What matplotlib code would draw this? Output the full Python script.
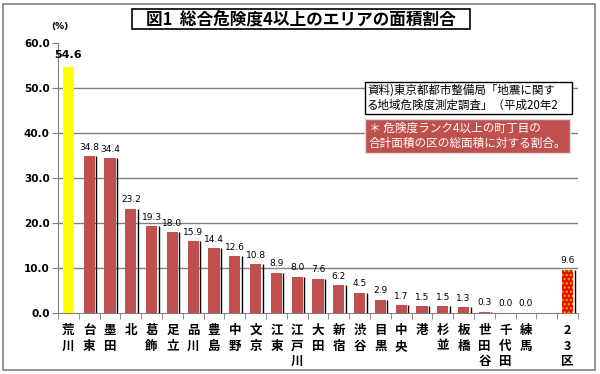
import matplotlib
matplotlib.use("Agg")
import matplotlib.pyplot as plt
from matplotlib.patches import Rectangle

plt.rcParams['font.family'] = ['Noto Sans CJK JP', 'DejaVu Sans']

title = "図1  総合危険度4以上のエリアの面積割合"
categories = ["荒川", "台東", "墨田", "北", "葛飾", "足立", "品川", "豊島", "中野", "文京",
              "江東", "江戸川", "大田", "新宿", "渋谷", "目黒", "中央", "港", "杉並", "板橋",
              "世田谷", "千代田", "練馬", "", "23区"]
values = [54.6, 34.8, 34.4, 23.2, 19.3, 18.0, 15.9, 14.4, 12.6, 10.8,
          8.9, 8.0, 7.6, 6.2, 4.5, 2.9, 1.7, 1.5, 1.5, 1.3,
          0.3, 0.0, 0.0, None, 9.6]
yticks = [0, 10, 20, 30, 40, 50, 60]
source_text = "資料)東京都都市整備局「地震に関す\nる地域危険度測定調査」（平成20年2"
note_text = "＊ 危険度ランク4以上の町丁目の\n合計面積の区の総面積に対する割合。"

RED = "#c0504d"
W, H = 600, 374
fig = plt.figure(figsize=(W / 100, H / 100), dpi=100)
ax = fig.add_axes([58 / W, 1 - 313 / H, (578 - 58) / W, (313 - 43) / H])

def fx(px):
    return px / W

def fy(py):
    return 1 - py / H

n = len(categories)
xs = list(range(n))
bw = 0.53
for i, (c, v) in enumerate(zip(categories, values)):
    if v is None:
        continue
    if i == 0:
        ax.bar(i, v, width=bw, color="#ffff00", zorder=3)
    elif c == "23区":
        ax.bar(i, v, width=bw, color="#ff0000", edgecolor="#a8d000", hatch="....",
               linewidth=0, zorder=3)
        ax.vlines(i + bw / 2 + 0.07, 0, v, color="black", linewidth=1, zorder=3)
    else:
        ax.bar(i, v, width=bw, color=RED, zorder=3)
        if v > 0:
            ax.vlines(i + bw / 2 + 0.07, 0, v, color="black", linewidth=1, zorder=3)
    if i == 0:
        ax.text(i, v + 1.6, f"{v:.1f}", ha="center", va="bottom", fontsize=8,
                fontweight="bold", family="DejaVu Sans", zorder=4)
    else:
        ax.text(i, v + 1.0, f"{v:.1f}", ha="center", va="bottom", fontsize=6.5,
                family="DejaVu Sans", zorder=4)

ax.set_xlim(-0.5, n - 0.5)
ax.set_ylim(0, 60)
ax.set_yticks(yticks)
ax.set_yticklabels([f"{t:.1f}" for t in yticks], fontsize=7.5, fontweight="bold",
                   family="DejaVu Sans")
for t in yticks[1:-1]:
    ax.axhline(t, color="#808080", linewidth=1, zorder=1)

ax.set_xticks(xs)
labels = []
for c in categories:
    if c == "23区":
        labels.append("2\n3\n区")
    else:
        labels.append("\n".join(list(c)))
ax.set_xticklabels(labels, fontsize=9, fontweight="bold", linespacing=1.25, va="top")
ax.tick_params(axis="x", which="major", length=0, pad=8)
ax.set_xticks([x - 0.5 for x in range(n + 1)], minor=True)
ax.tick_params(axis="x", which="minor", length=4, color="#808080", direction="out")
ax.tick_params(axis="y", length=4, color="#808080", direction="out", pad=2)

for s in ["top", "right"]:
    ax.spines[s].set_visible(False)
for s in ["left", "bottom"]:
    ax.spines[s].set_color("#808080")

fig.text(fx(60), fy(27), "(%)", fontsize=6.5, fontweight="bold", ha="center",
         va="center", family="DejaVu Sans")

# title box
fig.patches.append(Rectangle((fx(132), fy(29)), (470 - 132) / W, 20 / H,
                             transform=fig.transFigure, facecolor="white",
                             edgecolor="black", linewidth=1.2))
fig.text(fx(301), fy(19), title, fontsize=12, fontweight="bold", ha="center",
         va="center")

# source box
fig.patches.append(Rectangle((fx(365), fy(114)), (572 - 365) / W, 32 / H,
                             transform=fig.transFigure, facecolor="white",
                             edgecolor="black", linewidth=1, zorder=5))
fig.text(fx(367), fy(98), source_text, fontsize=8.3, ha="left", va="center",
         linespacing=1.2, zorder=6)

# note box
fig.patches.append(Rectangle((fx(365), fy(153)), (570 - 365) / W, 34 / H,
                             transform=fig.transFigure, facecolor=RED,
                             edgecolor="#d9d9d9", linewidth=1, zorder=5))
fig.text(fx(369), fy(136), note_text, fontsize=8.4, ha="left", va="center",
         color="white", linespacing=1.2, zorder=6)

fig.patches.append(Rectangle((fx(3), 4 / H), 592 / W, 366 / H, transform=fig.transFigure,
                             fill=False, edgecolor="#808080", linewidth=1.2))

fig.savefig("out.png", dpi=100)
